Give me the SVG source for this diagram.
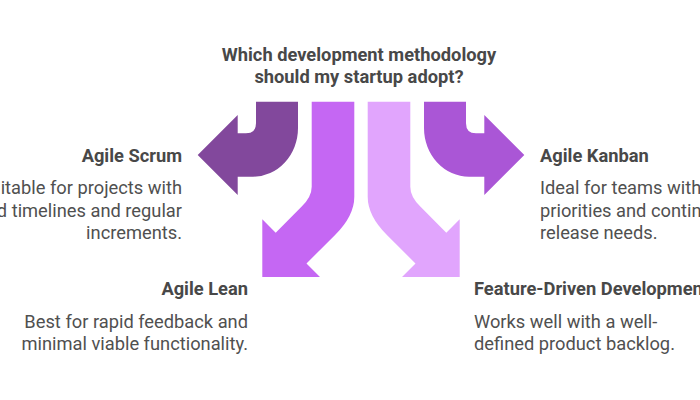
<svg xmlns="http://www.w3.org/2000/svg" width="700" height="400" viewBox="0 0 700 400">
<style>
.t{font-family:Roboto,"Liberation Sans",sans-serif;font-size:18.3px;font-weight:700;fill:#484848}
.d{font-family:Roboto,"Liberation Sans",sans-serif;font-size:18.3px;font-weight:400;fill:#505050}
.r{text-anchor:end}
.m{text-anchor:middle}
</style>
<rect width="700" height="400" fill="#ffffff"/>
<g id="connectors">
<path id="arrow-scrum" fill="#82489C" d="M256,101.7 L298,101.7 L298,128 A45,48.7 0 0 1 253,176.7 L237.7,176.7 L237.7,195 L197.7,155 L237.7,115 L237.7,133.3 L246,133.3 Q256,133.3 256,123.3 Z"/>
<path id="arrow-lean" fill="#C567F3" d="M311.7,101.7 L354.3,101.7 L354.3,196.7 Q354.3,215.7 335.3,234.7 L306.5,263.5 L320,277 L262.3,277 L262.3,219.3 L275.7,232.7 L301.7,206.6 Q311.7,196.6 311.7,186.7 Z"/>
<path id="arrow-fdd" fill="#E1A5FD" d="M410.3,101.7 L367.7,101.7 L367.7,196.7 Q367.7,215.7 386.7,234.7 L415.5,263.5 L402,277 L459.7,277 L459.7,219.3 L446.3,232.7 L420.3,206.6 Q410.3,196.6 410.3,186.7 Z"/>
<path id="arrow-kanban" fill="#AA56D6" d="M466,101.7 L424,101.7 L424,128 A45,48.7 0 0 0 469,176.7 L484.3,176.7 L484.3,195 L524.3,155 L484.3,115 L484.3,133.3 L476,133.3 Q466,133.3 466,123.3 Z"/>
</g>
<g id="question">
<text class="t m" x="359" y="61">Which development methodology</text>
<text class="t m" x="359" y="83">should my startup adopt?</text>
</g>
<g id="scrum">
<text class="t r" x="182" y="162">Agile Scrum</text>
<text class="d r" x="182" y="194">Suitable for projects with</text>
<text class="d r" x="182" y="216.5">fixed timelines and regular</text>
<text class="d r" x="182" y="239">increments.</text>
</g>
<g id="lean">
<text class="t r" x="248" y="295">Agile Lean</text>
<text class="d r" x="248" y="327.5">Best for rapid feedback and</text>
<text class="d r" x="248" y="350">minimal viable functionality.</text>
</g>
<g id="kanban">
<text class="t" x="540" y="162">Agile Kanban</text>
<text class="d" x="540" y="194">Ideal for teams with changing</text>
<text class="d" x="540" y="216.5">priorities and continuous</text>
<text class="d" x="540" y="239">release needs.</text>
</g>
<g id="fdd">
<text class="t" x="474" y="295">Feature-Driven Development</text>
<text class="d" x="474" y="327.5">Works well with a well-</text>
<text class="d" x="474" y="350">defined product backlog.</text>
</g>
</svg>
